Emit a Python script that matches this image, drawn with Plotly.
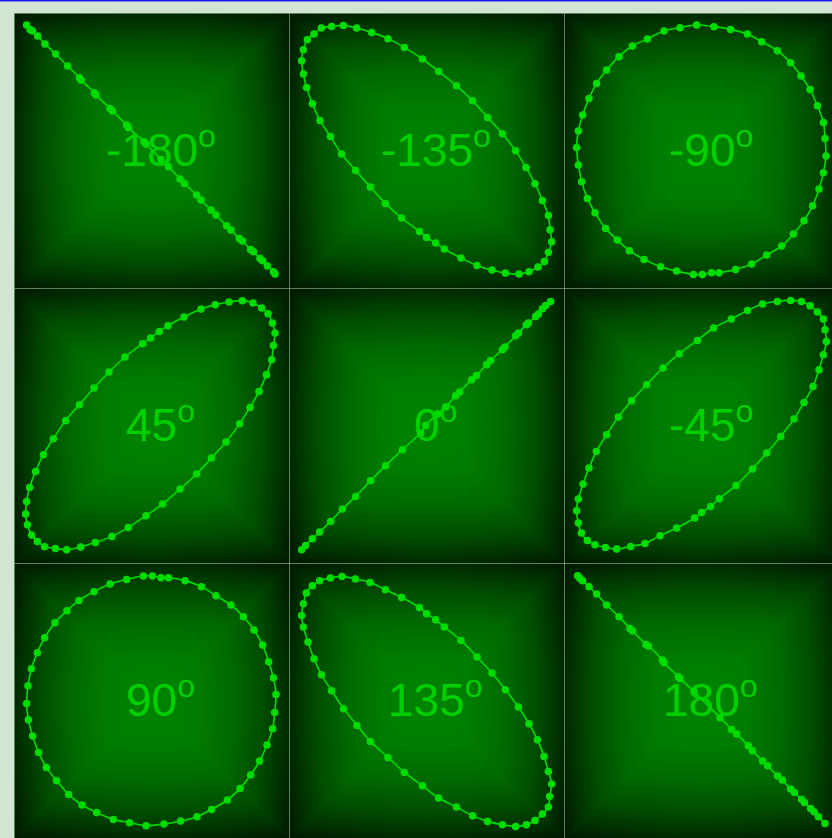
import numpy as np
import plotly.graph_objects as go

W, H = 832, 838

# Phase of each panel, row by row (degrees shown in the labels)
phase_labels = ["-180", "-135", "-90", "45", "0", "-45", "90", "135", "180"]

# Sampled points for each phase (x, y in signal units)
m180_x = [-0.999, -0.972, -0.953, -0.911, -0.852, -0.767, -0.671, -0.577, -0.564, -0.457, -0.444,
          -0.332, -0.313, -0.199, -0.185, -0.060, -0.044, 0.076, 0.135, 0.228, 0.263, 0.361, 0.396,
          0.476, 0.516, 0.601, 0.636, 0.703, 0.727, 0.793, 0.815, 0.868, 0.889, 0.927, 0.975, 0.988]
m180_y = [1.004, 0.969, 0.956, 0.916, 0.852, 0.772, 0.676, 0.582, 0.564, 0.463, 0.444,
          0.337, 0.316, 0.204, 0.183, 0.071, 0.052, -0.071, -0.129, -0.228, -0.263, -0.356, -0.396,
          -0.476, -0.516, -0.601, -0.636, -0.703, -0.724, -0.791, -0.809, -0.863, -0.881, -0.924, -0.969, -0.988]

m135_x = [-0.999, -0.985, -0.953, -0.900, -0.841, -0.759, -0.665, -0.559, -0.439, -0.308, -0.177, -0.033,
          0.097, 0.239, 0.367, 0.489, 0.607, 0.713, 0.796, 0.868, 0.927, 0.975, 0.988, 1.001, 0.975,
          0.943, 0.892, 0.820, 0.740, 0.631, 0.524, 0.404, 0.276, 0.143, 0.073, 0.001, -0.057, -0.199,
          -0.329, -0.449, -0.567, -0.679, -0.769, -0.852, -0.913, -0.959, -0.985]
m135_y = [0.719, 0.807, 0.887, 0.932, 0.980, 0.993, 1.001, 0.980, 0.945, 0.895, 0.825, 0.732,
          0.633, 0.519, 0.399, 0.265, 0.135, -0.001, -0.135, -0.265, -0.399, -0.519, -0.633, -0.729, -0.815,
          -0.887, -0.932, -0.969, -0.988, -0.980, -0.956, -0.919, -0.860, -0.788, -0.740, -0.695, -0.647, -0.540,
          -0.423, -0.292, -0.159, -0.028, 0.113, 0.241, 0.375, 0.505, 0.612]

m90_x = [-0.039, 0.100, 0.233, 0.367, 0.481, 0.607, 0.713, 0.796, 0.868, 0.927, 0.975, 0.988, 0.996,
         0.975, 0.940, 0.889, 0.820, 0.735, 0.641, 0.521, 0.401, 0.273, 0.140, 0.081, 0.007, -0.065,
         -0.199, -0.327, -0.460, -0.577, -0.673, -0.767, -0.852, -0.913, -0.959, -0.985, -0.999, -0.985,
         -0.951, -0.900, -0.839, -0.759, -0.660, -0.553, -0.433, -0.300, -0.172]
m90_y = [1.004, 0.991, 0.969, 0.932, 0.871, 0.799, 0.703, 0.596, 0.489, 0.359, 0.225, 0.097, -0.044,
         -0.177, -0.308, -0.441, -0.561, -0.668, -0.764, -0.836, -0.908, -0.951, -0.977, -0.977, -0.991, -0.991,
         -0.964, -0.929, -0.871, -0.801, -0.716, -0.623, -0.497, -0.383, -0.249, -0.116, 0.025, 0.156,
         0.284, 0.417, 0.537, 0.644, 0.751, 0.836, 0.892, 0.956, 0.983]

p45_x = [0.727, 0.812, 0.881, 0.932, 0.967, 0.988, 0.975, 0.961, 0.919, 0.860, 0.788, 0.705, 0.596,
         0.479, 0.361, 0.228, 0.089, -0.044, -0.185, -0.316, -0.449, -0.567, -0.679, -0.769, -0.855,
         -0.913, -0.959, -0.993, -1.007, -0.999, -0.975, -0.927, -0.865, -0.785, -0.687, -0.577, -0.460,
         -0.340, -0.212, -0.071, -0.007, 0.063, 0.132, 0.260, 0.396, 0.511, 0.620]
p45_y = [0.999, 0.980, 0.940, 0.895, 0.820, 0.740, 0.641, 0.527, 0.407, 0.273, 0.145, 0.015, -0.132,
         -0.260, -0.388, -0.508, -0.628, -0.721, -0.815, -0.887, -0.935, -0.972, -0.993, -0.983, -0.969,
         -0.927, -0.876, -0.793, -0.708, -0.607, -0.495, -0.367, -0.233, -0.105, 0.039, 0.167, 0.300,
         0.428, 0.548, 0.655, 0.700, 0.753, 0.799, 0.868, 0.932, 0.967, 0.988]

p0_x = [-0.999, -0.967, -0.913, -0.855, -0.767, -0.673, -0.567, -0.447, -0.327, -0.193, -0.047, -0.007,
        0.087, 0.153, 0.233, 0.265, 0.361, 0.399, 0.481, 0.513, 0.607, 0.628, 0.713, 0.735, 0.799,
        0.815, 0.873, 0.895, 0.927, 0.953, 0.993]
p0_y = [-0.993, -0.959, -0.905, -0.852, -0.767, -0.668, -0.567, -0.441, -0.321, -0.193, -0.060, 0.001,
        0.092, 0.148, 0.239, 0.268, 0.367, 0.401, 0.487, 0.521, 0.607, 0.628, 0.719, 0.740, 0.807,
        0.820, 0.873, 0.892, 0.935, 0.961, 0.993]

m45_x = [0.713, 0.799, 0.868, 0.927, 0.975, 0.988, 0.999, 0.975, 0.940, 0.892, 0.820, 0.740, 0.633,
         0.521, 0.407, 0.276, 0.143, 0.073, 0.001, -0.055, -0.199, -0.332, -0.452, -0.567, -0.679,
         -0.769, -0.852, -0.913, -0.961, -0.985, -0.999, -0.985, -0.948, -0.900, -0.841, -0.759, -0.665,
         -0.559, -0.439, -0.308, -0.177, -0.033, 0.097, 0.239, 0.369, 0.489, 0.607]
m45_y = [1.001, 0.993, 0.959, 0.908, 0.852, 0.767, 0.673, 0.567, 0.447, 0.313, 0.185, 0.052, -0.087,
         -0.220, -0.348, -0.479, -0.585, -0.647, -0.695, -0.740, -0.820, -0.881, -0.943, -0.967, -0.988,
         -0.975, -0.953, -0.919, -0.860, -0.780, -0.681, -0.588, -0.468, -0.340, -0.207, -0.073, 0.068,
         0.199, 0.327, 0.460, 0.575, 0.681, 0.780, 0.852, 0.921, 0.972, 0.993]

p90_x = [-0.065, 0.007, 0.076, 0.135, 0.268, 0.399, 0.516, 0.636, 0.735, 0.820, 0.889, 0.937, 0.975,
         0.996, 0.985, 0.969, 0.924, 0.865, 0.793, 0.708, 0.607, 0.481, 0.364, 0.233, 0.100, -0.044,
         -0.175, -0.305, -0.439, -0.556, -0.663, -0.759, -0.841, -0.903, -0.951, -0.985, -0.999, -0.988,
         -0.961, -0.913, -0.855, -0.772, -0.676, -0.580, -0.460, -0.332, -0.199]
p90_y = [0.996, 0.996, 0.983, 0.983, 0.959, 0.911, 0.839, 0.764, 0.671, 0.564, 0.444, 0.311, 0.183,
         0.049, -0.095, -0.225, -0.356, -0.484, -0.596, -0.703, -0.796, -0.871, -0.929, -0.964, -0.988, -1.001,
         -0.977, -0.951, -0.895, -0.836, -0.751, -0.641, -0.535, -0.415, -0.284, -0.153, -0.023, 0.119,
         0.255, 0.383, 0.503, 0.623, 0.719, 0.801, 0.871, 0.932, 0.969]

p135_x = [-0.999, -0.985, -0.961, -0.913, -0.855, -0.769, -0.676, -0.569, -0.452, -0.329, -0.199, -0.057,
          0.001, 0.073, 0.143, 0.276, 0.404, 0.524, 0.631, 0.735, 0.820, 0.887, 0.940, 0.975, 1.001,
          0.985, 0.975, 0.927, 0.868, 0.799, 0.713, 0.607, 0.489, 0.369, 0.239, 0.097, -0.033, -0.177,
          -0.308, -0.449, -0.556, -0.663, -0.759, -0.841, -0.900, -0.948, -0.985]
p135_y = [0.681, 0.775, 0.860, 0.919, 0.959, 0.980, 0.993, 0.972, 0.945, 0.887, 0.825, 0.745,
          0.695, 0.647, 0.588, 0.481, 0.348, 0.220, 0.087, -0.052, -0.185, -0.313, -0.447, -0.567, -0.668,
          -0.767, -0.852, -0.908, -0.959, -0.993, -1.007, -0.993, -0.967, -0.921, -0.852, -0.780, -0.681, -0.575,
          -0.455, -0.327, -0.199, -0.065, 0.079, 0.207, 0.335, 0.468, 0.588]

p180_x = [-0.991, -0.972, -0.951, -0.900, -0.839, -0.759, -0.660, -0.572, -0.551, -0.444, -0.425, -0.313,
          -0.300, -0.185, -0.172, -0.060, 0.148, 0.241, 0.281, 0.375, 0.407, 0.489, 0.529, 0.609, 0.647,
          0.713, 0.743, 0.801, 0.823, 0.873, 0.900, 0.935, 0.988]
p180_y = [0.999, 0.977, 0.959, 0.911, 0.852, 0.764, 0.671, 0.577, 0.556, 0.449, 0.436, 0.324,
          0.303, 0.191, 0.177, 0.071, -0.137, -0.231, -0.268, -0.361, -0.401, -0.484, -0.521, -0.604, -0.636,
          -0.708, -0.735, -0.791, -0.815, -0.863, -0.889, -0.929, -0.983]

# closed curves are traced all the way round; straight lines are not
panels = [
    (m180_x, m180_y, False), (m135_x, m135_y, True), (m90_x, m90_y, True),
    (p45_x, p45_y, True), (p0_x, p0_y, False), (m45_x, m45_y, True),
    (p90_x, p90_y, True), (p135_x, p135_y, True), (p180_x, p180_y, False),
]

# panel grid in pixels (the right-hand column runs off the page edge)
col_left = [14, 289, 564]
col_right = [289, 564, 832]
row_top = [13, 288, 563]
row_bottom = [288, 563, 838]
PX_PER_UNIT = 125.0
HALF = 137.5

TRACE_GREEN = "#00dc00"
LABEL_GREEN = "rgba(0,216,0,0.92)"

# soft "box" glow behind every panel
g = np.linspace(-1.1, 1.1, 111)
gx, gy = np.meshgrid(g, g)
box = np.maximum(np.abs(gx), np.abs(gy)) / 1.1
round_ = np.sqrt(gx ** 2 + gy ** 2) / (1.1 * np.sqrt(2))
glow = np.clip(0.75 * box + 0.25 * round_, 0, 1)
glow_scale = [
    [0.0, "rgb(0,132,0)"],
    [0.3, "rgb(0,124,0)"],
    [0.55, "rgb(0,104,0)"],
    [0.75, "rgb(0,76,0)"],
    [0.9, "rgb(0,46,0)"],
    [1.0, "rgb(0,24,0)"],
]

fig = go.Figure()
layout_axes = {}
annotations = []

for i, (px, py, closed) in enumerate(panels):
    r, c = divmod(i, 3)
    n = i + 1
    xa = "x" if n == 1 else f"x{n}"
    ya = "y" if n == 1 else f"y{n}"
    xkey = "xaxis" if n == 1 else f"xaxis{n}"
    ykey = "yaxis" if n == 1 else f"yaxis{n}"

    l, rr = col_left[c], col_right[c]
    t, b = row_top[r], row_bottom[r]
    layout_axes[xkey] = dict(
        domain=[l / W, rr / W], range=[-HALF / PX_PER_UNIT, (rr - l - HALF) / PX_PER_UNIT],
        visible=False, fixedrange=True, anchor=ya,
    )
    layout_axes[ykey] = dict(
        domain=[1 - b / H, 1 - t / H], range=[-HALF / PX_PER_UNIT, HALF / PX_PER_UNIT],
        visible=False, fixedrange=True, anchor=xa,
    )

    fig.add_trace(go.Heatmap(
        x=g, y=g, z=glow, colorscale=glow_scale, zmin=0, zmax=1, zsmooth="best",
        showscale=False, hoverinfo="skip", xaxis=xa, yaxis=ya,
    ))

    lx = list(px) + ([px[0]] if closed else [])
    ly = list(py) + ([py[0]] if closed else [])
    fig.add_trace(go.Scatter(
        x=lx, y=ly, mode="lines", line=dict(color=TRACE_GREEN, width=1.6, shape="spline", smoothing=1.0),
        hoverinfo="skip", showlegend=False, xaxis=xa, yaxis=ya,
    ))
    fig.add_trace(go.Scatter(
        x=px, y=py, mode="markers", marker=dict(color=TRACE_GREEN, size=7.5, line=dict(width=0)),
        hoverinfo="skip", showlegend=False, xaxis=xa, yaxis=ya,
    ))

    annotations.append(dict(
        x=0, y=0, xref=xa, yref=ya, text=phase_labels[i] + "<sup>o</sup>", showarrow=False,
        xanchor="center", yanchor="middle", xshift=9, yshift=4,
        font=dict(family="Liberation Sans, Arial, sans-serif", size=46, color=LABEL_GREEN),
    ))

# thin rules between the panels
shapes = []
rule = dict(color="rgba(120,165,120,0.75)", width=1)
for xp in [14, 289, 564]:
    shapes.append(dict(type="line", xref="paper", yref="paper", x0=(xp + 0.5) / W, x1=(xp + 0.5) / W,
                       y0=0, y1=1 - 13 / H, line=rule))
for yp in [13, 288, 563]:
    shapes.append(dict(type="line", xref="paper", yref="paper", x0=14 / W, x1=1,
                       y0=1 - (yp + 0.5) / H, y1=1 - (yp + 0.5) / H, line=rule))
# blue rule along the top edge
shapes.append(dict(type="rect", xref="paper", yref="paper", x0=0, x1=1, y0=1 - 1.6 / H, y1=1,
                   fillcolor="rgb(24,24,240)", line=dict(width=0)))

fig.update_layout(
    width=W, height=H, margin=dict(l=0, r=0, t=0, b=0),
    paper_bgcolor="rgb(210,228,210)", plot_bgcolor="rgb(0,30,0)",
    showlegend=False, annotations=annotations, shapes=shapes, **layout_axes,
)

fig.write_html("out.html")
